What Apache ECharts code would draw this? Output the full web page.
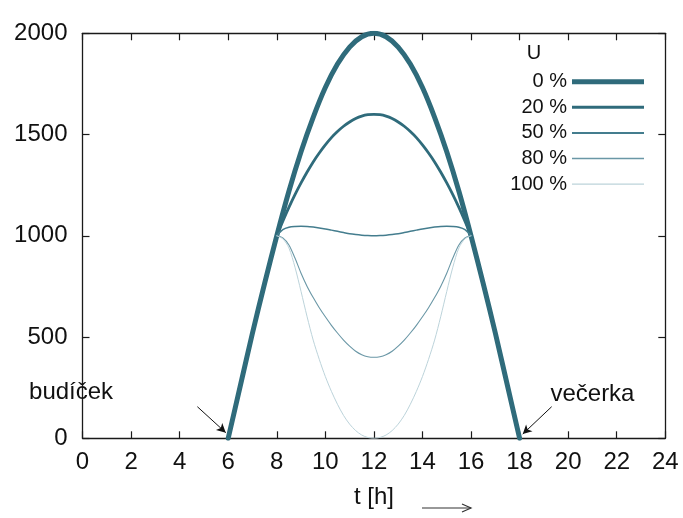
<!DOCTYPE html>
<html>
<head>
<meta charset="utf-8">
<script src="https://cdn.jsdelivr.net/npm/echarts@6/dist/echarts.min.js"></script>
<style>
html,body{margin:0;padding:0;background:#fff;}
#c{width:683px;height:518px;}
</style>
</head>
<body>
<div id="c"></div>
<script>
// ---- data ----
var hours0 = [6,6.5,7,7.5,8,8.5,9,9.5,10,10.5,11,11.5,12,12.5,13,13.5,14,14.5,15,15.5,16,16.5,17,17.5,18];
var load0  = [0,260,520,765,1000,1220,1415,1585,1732,1848,1932,1983,2000,1983,1932,1848,1732,1585,1415,1220,1000,765,520,260,0];
var hoursU = [8,8.25,8.5,8.75,9,9.25,9.5,9.75,10,10.25,10.5,10.75,11,11.25,11.5,11.75,12,
              12.25,12.5,12.75,13,13.25,13.5,13.75,14,14.25,14.5,14.75,15,15.25,15.5,15.75,16];
var load20  = [1000,1072,1140,1203,1261,1315,1365,1409,1449,1485,1515,1541,1562,1579,1591,1598,1600,
               1598,1591,1579,1562,1541,1515,1485,1449,1409,1365,1315,1261,1203,1140,1072,1000];
var load50  = [1000,1030,1042,1046,1047,1046,1043,1039,1034,1028,1022,1016,1010,1006,1003,1001,1000,
               1001,1003,1006,1010,1016,1022,1028,1034,1039,1043,1046,1047,1046,1042,1030,1000];
var load80  = [1000,990,955,890,815,750,695,645,600,558,520,485,455,430,413,403,400,
               403,413,430,455,485,520,558,600,645,695,750,815,890,955,990,1000];
var load100 = [1000,985,940,845,725,600,485,390,305,232,168,113,70,38,16,4,0,
               4,16,38,70,113,168,232,305,390,485,600,725,845,940,985,1000];
var seriesNames = ['0 %','20 %','50 %','80 %','100 %'];
var xTicks = {min:0, max:24, interval:2};
var yTicks = {min:0, max:2000, interval:500};
var legendTitle = 'U';
var xName = 't [h]';
var notes = [
  {text:'budíček', at:[-0.47,229], from:[4.73,156], to:[5.9,28]},
  {text:'večerka', at:[21.0,219], from:[19.32,156], to:[18.13,21]}
];

function pairs(xs, ys){ return xs.map(function(x,i){return [x, ys[i]];}); }

var FONT = 'Liberation Sans';
var styles = [
  {color:'#2f6b7b', width:5},
  {color:'#2f6b7b', width:2.8},
  {color:'#447d8e', width:1.5},
  {color:'#6a97a6', width:1.1},
  {color:'#bcd3da', width:1}
];
var iconH = [5, 3, 2, 1.3, 1.3];
var datasets = [pairs(hours0,load0), pairs(hoursU,load20), pairs(hoursU,load50), pairs(hoursU,load80), pairs(hoursU,load100)];

var chart = echarts.init(document.getElementById('c'), null, {renderer:'canvas'});

var axisLine = {show:true, onZero:false, lineStyle:{color:'#1a1a1a', width:1.3}};
var tick = {show:true, inside:true, length:7, lineStyle:{color:'#1a1a1a', width:1.2}};

var series = datasets.map(function(d,i){
  var s = {
    name: seriesNames[i], type:'line', data:d, smooth:0.3, symbol:'none', showSymbol:false,
    xAxisIndex:0, yAxisIndex:0,
    lineStyle:{color:styles[i].color, width:styles[i].width, cap:'round', join:'round'},
    itemStyle:{color:styles[i].color},
    animation:false, z: 2 + i
  };
  if(i===0){
    s.markLine = {
      silent:true, symbol:['none','arrow'], symbolSize:[7,9], animation:false,
      label:{show:false},
      lineStyle:{color:'#111', width:1, type:'solid'},
      data: notes.map(function(n){ return [{coord:n.from},{coord:n.to}]; })
    };
  }
  return s;
});

var legendData = seriesNames.map(function(n,i){
  return {name:n, icon:'path://M0,0H72V'+iconH[i]+'H0Z',
          itemStyle:{color:styles[i].color, borderWidth:0}};
});

var option = {
  backgroundColor:'#fff',
  animation:false,
  grid:{left:82.5, right:17.7, top:33.3, bottom:79.7, containLabel:false},
  xAxis:[
    {type:'value', position:'bottom', min:xTicks.min, max:xTicks.max, interval:xTicks.interval,
     axisLine:axisLine, axisTick:tick, splitLine:{show:false},
     axisLabel:{fontFamily:FONT, fontSize:24, color:'#111', margin:12},
     name:xName, nameLocation:'middle', nameGap:47,
     nameTextStyle:{fontFamily:FONT, fontSize:24, color:'#111'}},
    {type:'value', position:'top', min:xTicks.min, max:xTicks.max, interval:xTicks.interval,
     axisLine:axisLine, axisTick:tick, axisLabel:{show:false}, splitLine:{show:false}}
  ],
  yAxis:[
    {type:'value', position:'left', min:yTicks.min, max:yTicks.max, interval:yTicks.interval,
     axisLine:axisLine, axisTick:tick, splitLine:{show:false},
     axisLabel:{fontFamily:FONT, fontSize:24, color:'#111', margin:15,
       formatter:function(v){ return String(v); }}},
    {type:'value', position:'right', min:yTicks.min, max:yTicks.max, interval:yTicks.interval,
     axisLine:axisLine, axisTick:tick, axisLabel:{show:false}, splitLine:{show:false}}
  ],
  legend:{
    orient:'vertical', right:34, top:66.7, align:'right',
    itemWidth:72, itemHeight:14, itemGap:5.6,
    selectedMode:false,
    symbolKeepAspect:true,
    data:legendData,
    formatter:function(n){ return '{a|'+n+'}'; },
    textStyle:{fontFamily:FONT, fontSize:20, color:'#111',
      rich:{a:{width:62, align:'right', fontFamily:FONT, fontSize:20, color:'#111', lineHeight:20}}}
  },
  series:series
};
chart.setOption(option);

// text annotations and decorations positioned from data coordinates
var g = [];
notes.forEach(function(n){
  var p = chart.convertToPixel({xAxisIndex:0, yAxisIndex:0}, n.at);
  g.push({type:'text', x:p[0], y:p[1], style:{text:n.text, font:'24px "Liberation Sans"', fill:'#111', align:'center', verticalAlign:'middle'}, z:10});
});
g.push({type:'text', x:534, y:53, style:{text:legendTitle, font:'20px "Liberation Sans"', fill:'#111', align:'center', verticalAlign:'middle'}, z:10});
// arrow after axis name
g.push({type:'line', shape:{x1:422, y1:508, x2:471, y2:508}, style:{stroke:'#333', lineWidth:1.2}, z:10});
g.push({type:'polyline', shape:{points:[[462,504],[471,508],[462,512]]}, style:{stroke:'#333', lineWidth:1.2, fill:null}, z:10});
chart.setOption({graphic:g});
</script>
</body>
</html>
